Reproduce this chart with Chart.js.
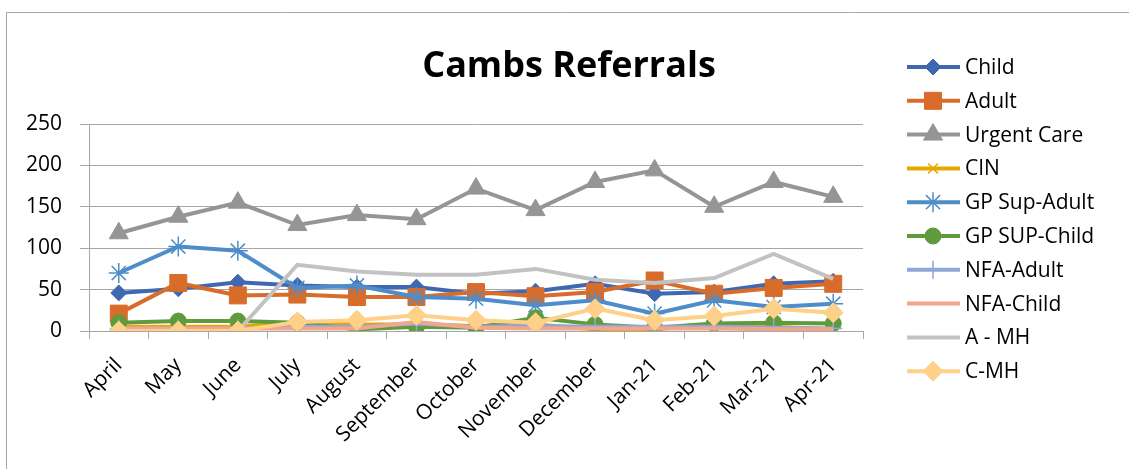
<!DOCTYPE html>
<html>
<head>
<meta charset="utf-8">
<script src="https://cdn.jsdelivr.net/npm/chart.js@4.4.1/dist/chart.umd.min.js"></script>
<style>
  body { margin: 0; background: #fff; }
  #wrap { position: relative; width: 1129px; height: 469px; }
</style>
</head>
<body>
<div id="wrap"><canvas id="cambsChart" width="1129" height="469"></canvas></div>
<script>
// data
const months = ["April", "May", "June", "July", "August", "September", "October",
  "November", "December", "Jan-21", "Feb-21", "Mar-21", "Apr-21"];
const yTicks = [0, 50, 100, 150, 200, 250];
const chartTitle = "Cambs Referrals";

const child       = [46, 51, 59, 55, 53, 53, 45, 48, 57, 45, 47, 57, 60];
const adult       = [21, 58, 43, 44, 41, 41, 47, 42, 47, 61, 45, 52, 57];
const urgentCare  = [118, 138, 155, 128, 140, 135, 172, 146, 180, 194, 150, 180, 162];
const cin         = [5, 5, 5, 10, 8, 8, 6, 8, 2, 2, 8, 5, 2];
const gpSupAdult  = [70, 102, 97, 52, 55, 41, 39, 31, 37, 21, 37, 29, 33];
const gpSupChild  = [10, 12, 12, 10, 2, 5, 4, 16, 8, 4, 9, 10, 9];
const nfaAdult    = [3, 3, 3, 5, 5, 9, 5, 6, 5, 5, 5, 4, 3];
const nfaChild    = [3, 3, 3, 3, 3, 11, 4, 3, 3, 3, 3, 2, 2];
const aMH         = [0, 0, 0, 80, 72, 68, 68, 75, 62, 58, 64, 93, 63];
const cMH         = [0, 0, 0, 11, 13, 19, 13, 10, 27, 13, 18, 27, 22];

const FONT = "'Open Sans', Lato, sans-serif";

// name, values, colour, point style, radius
const seriesList = [
  ["Child", child, "#4068B2", "rectRot", 8],
  ["Adult", adult, "#D86C2A", "rect", 12],
  ["Urgent Care", urgentCare, "#959595", "triangle", 11],
  ["CIN", cin, "#E6A700", "crossRot", 7],
  ["GP Sup-Adult", gpSupAdult, "#4D8DCA", "star", 10],
  ["GP SUP-Child", gpSupChild, "#5F9B3C", "circle", 8],
  ["NFA-Adult", nfaAdult, "#90A7DA", "cross", 9],
  ["NFA-Child", nfaChild, "#F2A68A", false, 0],
  ["A - MH", aMH, "#C2C2C2", false, 0],
  ["C-MH", cMH, "#FFD088", "rectRot", 10]
];

function isThin(style) {
  return style === "crossRot" || style === "cross" || style === "star";
}

const datasets = seriesList.map(function (s, i) {
  return {
    label: s[0],
    data: s[1],
    borderColor: s[2],
    backgroundColor: s[2],
    borderWidth: 4,
    pointStyle: s[3],
    pointRadius: s[4],
    pointHoverRadius: s[4],
    pointBorderWidth: isThin(s[3]) ? 1.5 : 1,
    pointBorderColor: s[2],
    pointBackgroundColor: s[2],
    tension: 0,
    order: seriesList.length - i   // later series on top, as in the original
  };
});

// grey frame round the chart + the title, centred on the whole picture
const framePlugin = {
  id: "frame",
  beforeDraw(chart) {
    const ctx = chart.ctx;
    ctx.save();
    ctx.strokeStyle = "#A6A6A6";
    ctx.lineWidth = 1;
    ctx.beginPath();
    ctx.moveTo(6.5, 469);
    ctx.lineTo(6.5, 12.5);
    ctx.lineTo(1129, 12.5);
    ctx.stroke();
    ctx.font = "bold 36px " + FONT;
    ctx.fillStyle = "#000";
    ctx.textAlign = "center";
    ctx.textBaseline = "alphabetic";
    ctx.fillText(chartTitle, 569, 77);
    ctx.restore();
  }
};

// legend on the right: line sample with marker, then the name
const sideLegend = {
  id: "sideLegend",
  afterDraw(chart) {
    const ctx = chart.ctx;
    ctx.save();
    ctx.font = "21px " + FONT;
    ctx.textBaseline = "middle";
    seriesList.forEach(function (s, i) {
      const y = 67 + i * 33.8;
      ctx.strokeStyle = s[2];
      ctx.lineWidth = 4;
      ctx.beginPath();
      ctx.moveTo(907, y);
      ctx.lineTo(960, y);
      ctx.stroke();
      if (s[3]) {
        ctx.fillStyle = s[2];
        ctx.lineWidth = isThin(s[3]) ? 1.5 : 1;
        Chart.helpers.drawPoint(ctx, { pointStyle: s[3], radius: s[4], rotation: 0, borderWidth: 1 }, 933, y);
      }
      ctx.fillStyle = "#000";
      ctx.fillText(s[0], 965, y + 1);
    });
    ctx.restore();
  }
};

const config = {
  type: "line",
  data: { labels: months, datasets: datasets },
  options: {
    responsive: false,
    animation: false,
    layout: { padding: { left: 0, right: 266, top: 124, bottom: 0 } },
    plugins: {
      legend: { display: false },
      tooltip: { enabled: false },
      title: { display: false }
    },
    scales: {
      x: {
        offset: true,
        grid: { offset: true, drawOnChartArea: false, color: "#A6A6A6", tickLength: 8 },
        border: { color: "#A6A6A6", width: 1 },
        ticks: {
          color: "#000",
          font: { family: FONT, size: 21 },
          maxRotation: 45,
          minRotation: 45,
          autoSkip: false,
          padding: 14
        },
        afterFit(scale) { scale.height = 138; }
      },
      y: {
        min: 0,
        max: 250,
        afterBuildTicks(scale) { scale.ticks = yTicks.map(v => ({ value: v })); },
        grid: { color: "#A6A6A6", tickLength: 9 },
        border: { color: "#A6A6A6", width: 1 },
        ticks: {
          color: "#000",
          font: { family: FONT, size: 21 },
          padding: 18
        },
        afterFit(scale) { scale.width = 89; }
      }
    }
  },
  plugins: [framePlugin, sideLegend]
};

const myChart = new Chart(document.getElementById("cambsChart"), config);
</script>
</body>
</html>
